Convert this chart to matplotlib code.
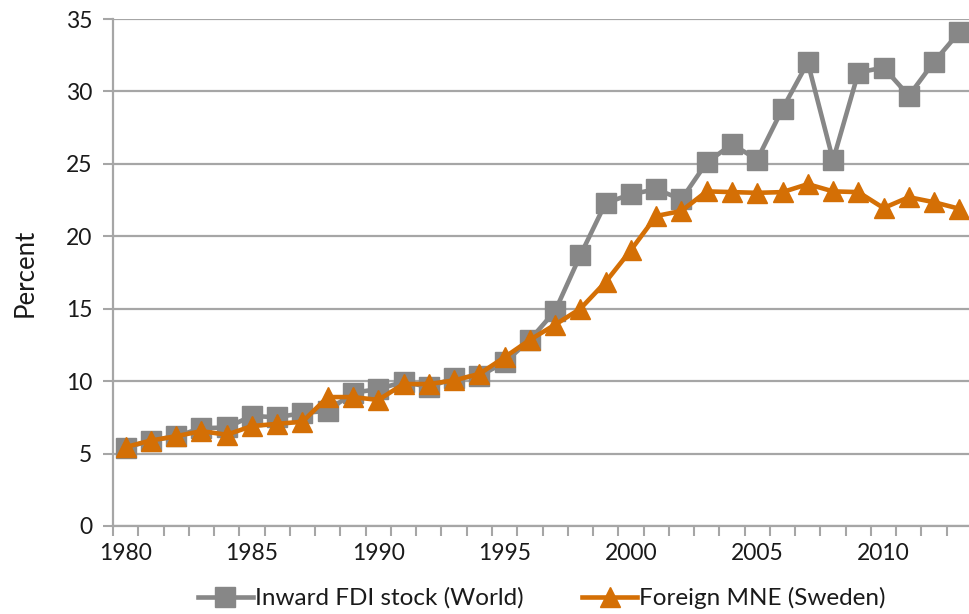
import matplotlib
matplotlib.use("Agg")
import matplotlib.pyplot as plt
from matplotlib.ticker import MultipleLocator, FixedLocator

years = list(range(1980, 2014))
fdi_world = [5.4, 5.9, 6.2, 6.75, 6.8, 7.6, 7.5, 7.8, 7.95, 9.2, 9.45, 9.95, 9.6, 10.2, 10.35,
             11.3, 12.85, 14.85, 18.7, 22.3, 22.9, 23.25, 22.55, 25.1, 26.35, 25.3, 28.8,
             32.0, 25.25, 31.3, 31.65, 29.7, 32.05, 34.1]
mne_sweden = [5.45, 5.9, 6.2, 6.55, 6.3, 6.9, 7.05, 7.2, 8.9, 8.9, 8.7, 9.8, 9.8, 10.05, 10.5,
              11.65, 12.85, 13.9, 15.0, 16.85, 19.05, 21.4, 21.75, 23.1, 23.05, 23.0, 23.05,
              23.6, 23.1, 23.05, 21.95, 22.7, 22.35, 21.9]
xtick_labels = [1980, 1985, 1990, 1995, 2000, 2005, 2010]
label_world = "Inward FDI stock (World)"
label_sweden = "Foreign MNE (Sweden)"

plt.rcParams['font.family'] = ['Lato', 'DejaVu Sans']
GRAY = "#878787"
ORANGE = "#D46F05"
GRID = "#A6A6A6"
TXT = "#1a1a1a"

fig = plt.figure(figsize=(9.7, 6.14), dpi=100)
ax = fig.add_axes([113/970, (614-526)/614, (972-113)/970, 507/614])

ax.plot(years, fdi_world, color=GRAY, lw=3.3, marker='s', ms=14, mec=GRAY, mfc=GRAY,
        label=label_world, zorder=3, clip_on=False)
ax.plot(years, mne_sweden, color=ORANGE, lw=3.3, marker='^', ms=15, mec=ORANGE, mfc=ORANGE,
        label=label_sweden, zorder=4, clip_on=False)

ax.set_xlim(1979.5, 2013.5)
ax.set_ylim(0, 35)
ax.yaxis.set_major_locator(MultipleLocator(5))
ax.xaxis.set_major_locator(FixedLocator(xtick_labels))
ax.xaxis.set_minor_locator(FixedLocator([y + 0.5 for y in range(1979, 2014)]))
ax.tick_params(axis='x', which='major', length=0, pad=12, labelsize=16.5, labelcolor=TXT)
ax.tick_params(axis='x', which='minor', length=7, width=1.5, color=GRID, direction='out')
ax.tick_params(axis='y', which='major', length=7, width=1.5, color=GRID, direction='out',
               pad=8, labelsize=16.5, labelcolor=TXT)
ax.grid(axis='y', color=GRID, lw=1.6, zorder=0)
ax.set_axisbelow(True)
for s in ['top', 'right']:
    ax.spines[s].set_visible(False)
for s in ['left', 'bottom']:
    ax.spines[s].set_color(GRID)
    ax.spines[s].set_linewidth(1.6)

ax.set_ylabel("Percent", fontsize=18.5, color=TXT, labelpad=20)

fig.legend(loc='center', bbox_to_anchor=(542/970, 1 - 598/614), ncol=2, frameon=False,
           fontsize=17.5, handlelength=2.25, handletextpad=0.1, columnspacing=2.4,
           markerscale=1.0, labelcolor=TXT, borderpad=0, borderaxespad=0)

fig.savefig("out.png", dpi=100)
